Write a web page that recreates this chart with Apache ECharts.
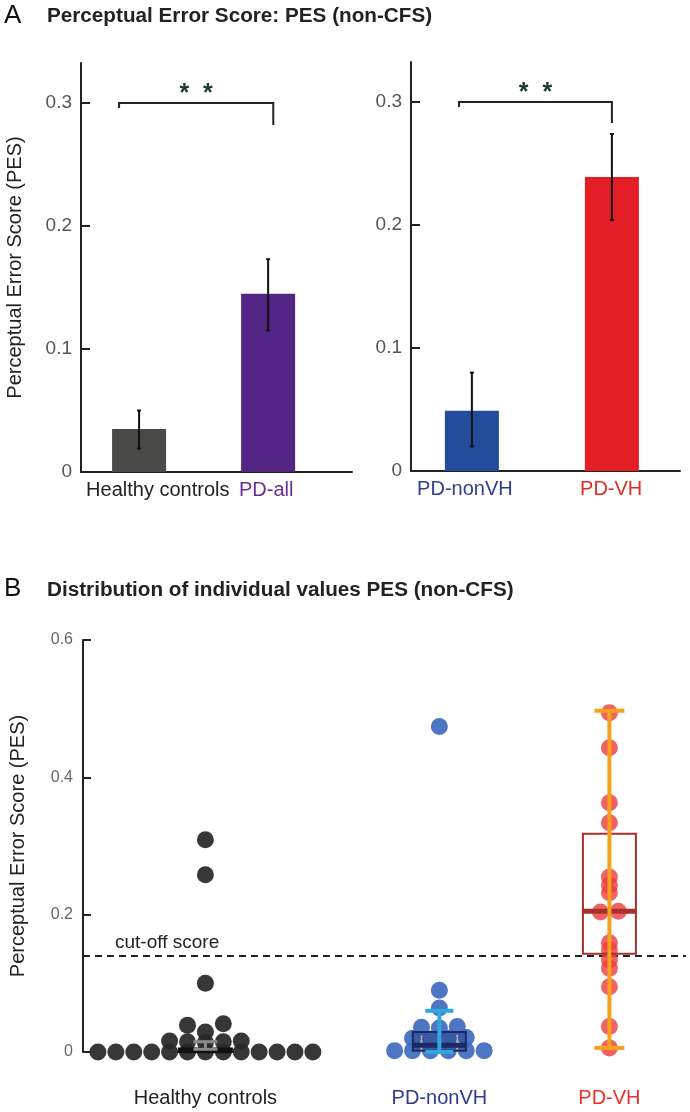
<!DOCTYPE html>
<html><head><meta charset="utf-8">
<script src="https://cdn.jsdelivr.net/npm/echarts@6/dist/echarts.min.js"></script>
<style>html,body{margin:0;padding:0;background:#fff}#c{width:690px;height:1112px}</style>
</head><body><div id="c"></div>
<script>
// ---------- Panel A data ----------
const aLeftCats = ['Healthy controls', 'PD-all'];
const aLeftMeans = [0.035, 0.145];
const aLeftErrLow = [0.019, 0.115];
const aLeftErrHigh = [0.050, 0.173];
const aRightCats = ['PD-nonVH', 'PD-VH'];
const aRightMeans = [0.049, 0.239];
const aRightErrLow = [0.020, 0.204];
const aRightErrHigh = [0.080, 0.274];
const aTicks = [0, 0.1, 0.2, 0.3];
const sigLabel = '*  *';
const sigLevel = 0.3;
const sigDropsLeft = [0.296, 0.282];
const sigDropsRight = [0.296, 0.283];

// ---------- Panel B data ----------
const bCats = ['Healthy controls', 'PD-nonVH', 'PD-VH'];
const hcValues = [0, 0, 0, 0, 0, 0, 0, 0, 0, 0, 0, 0, 0,
  0.014, 0.015, 0.015, 0.016, 0.016, 0.029, 0.039, 0.041, 0.100, 0.258, 0.309];
const nonVHValues = [0.002, 0.002, 0.002, 0.002, 0.002, 0.002,
  0.019, 0.020, 0.020, 0.021, 0.035, 0.036, 0.037, 0.064, 0.090, 0.474];
const vhValues = [0.006, 0.037, 0.095, 0.122, 0.134, 0.149, 0.159, 0.204, 0.205,
  0.232, 0.243, 0.255, 0.334, 0.363, 0.443, 0.494];
const boxQ1 = [0.000, 0.002, 0.143];
const boxMedian = [0.002, 0.010, 0.205];
const boxQ3 = [0.005, 0.029, 0.318];
const whiskerLow = [0.004, 0.000, 0.006];
const whiskerHigh = [0.015, 0.060, 0.497];
const cutoffScore = 0.136;
const bTicks = [0, 0.2, 0.4, 0.6];

// ---------- layout / style ----------
const FONT = '"Liberation Sans", Arial, Helvetica, sans-serif';
const aLeftBarPos = [0.9, 2.9], aLeftLabelPos = [1.19, 2.87], aLeftSig = [0.59, 2.98];
const aRightBarPos = [0.87, 2.87], aRightLabelPos = [0.77, 2.86], aRightSig = [0.686, 2.87];
const aLeftColors = ['#4a4a48', '#532584'];
const aRightColors = ['#234b9c', '#e31f25'];
const aLeftLabelColors = ['#222222', '#6a2b93'];
const aRightLabelColors = ['#2f3f8f', '#e52b26'];
const bGroupPos = [2.03, 5.91, 8.73];
const bLabelColors = ['#222222', '#2f3a8c', '#e8322d'];
const bDotColors = ['rgba(40,40,40,0.93)', 'rgba(64,108,190,0.93)', 'rgba(236,60,62,0.8)'];
const bRowTol = [0.013, 0.013, 0.004];
const bGridWidth = 606, bXMax = 10, dotStepPx = 18;
const boxStroke = ['#111111', '#1a2a66', '#a8302a'];
const boxFill = ['rgba(0,0,0,0)', 'rgba(25,40,100,0.35)', 'rgba(0,0,0,0)'];
const whiskerColor = ['#8a8a8a', '#2fa8e0', '#f7a01a'];
const whiskerCapHalf = [12, 14, 15];
const boxHalf = 26.5;

function spread(values, center, rowTol) {
  const step = dotStepPx * bXMax / bGridWidth;
  const sorted = values.slice().sort((a, b) => a - b);
  const rows = []; let cur = null;
  sorted.forEach(v => {
    if (!cur || v - cur[0] > rowTol) { cur = [v]; rows.push(cur); } else cur.push(v);
  });
  const pts = [];
  rows.forEach(r => {
    const n = r.length;
    r.forEach((v, i) => {
      let k;
      if (n % 2) k = i === 0 ? 0 : (i % 2 ? -Math.ceil(i / 2) : Math.ceil(i / 2));
      else { const m = Math.floor(i / 2) + 0.5; k = i % 2 ? m : -m; }
      pts.push([center + k * step, v]);
    });
  });
  return pts;
}

function catFormatter(positions, names) {
  return v => {
    let best = 0;
    positions.forEach((p, i) => { if (Math.abs(p - v) < Math.abs(positions[best] - v)) best = i; });
    return '{c' + best + '|' + names[best] + '}';
  };
}
function richFor(colors, size) {
  const r = {};
  colors.forEach((c, i) => { r['c' + i] = { color: c, fontSize: size, fontFamily: FONT }; });
  return r;
}

function errRender(params, api) {
  const x = api.value(0), lo = api.value(1), hi = api.value(2);
  const a = api.coord([x, hi]), b = api.coord([x, lo]);
  const cap = 2, st = { stroke: '#111', lineWidth: 2 };
  return { type: 'group', children: [
    { type: 'line', shape: { x1: a[0], y1: a[1], x2: b[0], y2: b[1] }, style: st },
    { type: 'line', shape: { x1: a[0] - cap, y1: a[1], x2: a[0] + cap, y2: a[1] }, style: st },
    { type: 'line', shape: { x1: b[0] - cap, y1: b[1], x2: b[0] + cap, y2: b[1] }, style: st }
  ] };
}
function sigRender(params, api) {
  const x1 = api.value(0), x2 = api.value(1), lv = api.value(2), dl = api.value(3), dr = api.value(4);
  const p = [api.coord([x1, dl]), api.coord([x1, lv]), api.coord([x2, lv]), api.coord([x2, dr])];
  const t = api.coord([(x1 + x2) / 2, lv]);
  return { type: 'group', children: [
    { type: 'polyline', shape: { points: p }, style: { stroke: '#222', lineWidth: 2, fill: null } },
    { type: 'text', style: { text: sigLabel, x: t[0], y: t[1] - 9, align: 'center', verticalAlign: 'middle',
      fill: '#1d3a30', font: 'bold 25px ' + FONT } }
  ] };
}
function boxRender(params, api) {
  const g = params.dataIndex;
  const pos = api.value(0);
  const q1 = api.coord([pos, api.value(1)]), md = api.coord([pos, api.value(2)]), q3 = api.coord([pos, api.value(3)]);
  const wl = api.coord([pos, api.value(4)]), wh = api.coord([pos, api.value(5)]);
  const cx = q1[0], ch = whiskerCapHalf[g];
  const wst = { stroke: whiskerColor[g], lineWidth: g === 0 ? 3 : 4 };
  return { type: 'group', children: [
    { type: 'rect', shape: { x: cx - boxHalf, y: q3[1], width: boxHalf * 2, height: Math.max(q1[1] - q3[1], 1) },
      style: { fill: boxFill[g], stroke: boxStroke[g], lineWidth: 2 } },
    { type: 'line', shape: { x1: cx - boxHalf, y1: md[1], x2: cx + boxHalf, y2: md[1] },
      style: { stroke: boxStroke[g], lineWidth: 5 } },
    { type: 'line', shape: { x1: cx, y1: wl[1], x2: cx, y2: wh[1] }, style: wst },
    { type: 'line', shape: { x1: cx - ch, y1: wl[1], x2: cx + ch, y2: wl[1] }, style: wst },
    { type: 'line', shape: { x1: cx - ch, y1: wh[1], x2: cx + ch, y2: wh[1] }, style: wst }
  ] };
}

const axisLineStyle = { show: true, lineStyle: { color: '#222', width: 2 } };
function yAxisA(withName) {
  return {
    type: 'value', min: 0, max: 0.3325, gridIndex: withName ? 0 : 1,
    axisLine: axisLineStyle,
    axisTick: { show: true, inside: true, length: 9, lineStyle: { color: '#222', width: 2 }, customValues: aTicks },
    axisLabel: { customValues: aTicks, formatter: v => String(v), color: '#555', fontSize: 19, margin: 9, fontFamily: FONT },
    splitLine: { show: false },
    name: withName ? 'Perceptual Error Score (PES)' : '',
    nameLocation: 'middle', nameGap: 56,
    nameTextStyle: { fontSize: 20, color: '#222', fontFamily: FONT }
  };
}

const chart = echarts.init(document.getElementById('c'), null, { renderer: 'canvas' });
chart.setOption({
  backgroundColor: '#fff',
  animation: false,
  title: [
    { text: 'A', left: 4, top: 3, padding: 0, textStyle: { fontSize: 26, fontWeight: 'normal', color: '#111', fontFamily: FONT } },
    { text: 'Perceptual Error Score: PES (non-CFS)', left: 47, top: 6, padding: 0, textStyle: { fontSize: 20.7, fontWeight: 'bold', color: '#222', fontFamily: FONT } },
    { text: 'B', left: 4, top: 576, padding: 0, textStyle: { fontSize: 26, fontWeight: 'normal', color: '#111', fontFamily: FONT } },
    { text: 'Distribution of individual values PES (non-CFS)', left: 47, top: 580, padding: 0, textStyle: { fontSize: 20.7, fontWeight: 'bold', color: '#222', fontFamily: FONT } }
  ],
  grid: [
    { left: 81, top: 63, width: 271, height: 409 },
    { left: 411, top: 62, width: 269, height: 409 },
    { left: 80, top: 640, width: bGridWidth, height: 412 }
  ],
  xAxis: [
    { type: 'value', gridIndex: 0, min: 0, max: 4.2, axisLine: axisLineStyle, axisTick: { show: false }, splitLine: { show: false },
      axisLabel: { customValues: aLeftLabelPos, formatter: catFormatter(aLeftLabelPos, aLeftCats), rich: richFor(aLeftLabelColors, 20), margin: 8 } },
    { type: 'value', gridIndex: 1, min: 0, max: 3.843, axisLine: axisLineStyle, axisTick: { show: false }, splitLine: { show: false },
      axisLabel: { customValues: aRightLabelPos, formatter: catFormatter(aRightLabelPos, aRightCats), rich: richFor(aRightLabelColors, 20), margin: 8 } },
    { type: 'value', gridIndex: 2, min: 0, max: bXMax, axisLine: { show: false }, axisTick: { show: false }, splitLine: { show: false },
      axisLabel: { customValues: bGroupPos, formatter: catFormatter(bGroupPos, bCats), rich: richFor(bLabelColors, 20), margin: 36 } }
  ],
  yAxis: [
    yAxisA(true),
    yAxisA(false),
    { type: 'value', gridIndex: 2, min: 0, max: 0.6,
      axisLine: axisLineStyle,
      axisTick: { show: true, inside: true, length: 8, lineStyle: { color: '#222', width: 2 }, customValues: bTicks },
      axisLabel: { customValues: bTicks, formatter: v => String(v), color: '#666', fontSize: 16, margin: 10, fontFamily: FONT },
      splitLine: { show: false },
      name: 'Perceptual Error Score (PES)', nameLocation: 'middle', nameGap: 55,
      nameTextStyle: { fontSize: 20, color: '#222', fontFamily: FONT } }
  ],
  series: [
    { type: 'bar', xAxisIndex: 0, yAxisIndex: 0, barWidth: 54, z: 2,
      data: aLeftMeans.map((m, i) => ({ value: [aLeftBarPos[i], m], itemStyle: { color: aLeftColors[i] } })) },
    { type: 'custom', xAxisIndex: 0, yAxisIndex: 0, z: 3, renderItem: errRender, encode: { x: 0, y: [1, 2] },
      data: aLeftMeans.map((m, i) => [aLeftBarPos[i], aLeftErrLow[i], aLeftErrHigh[i]]) },
    { type: 'custom', xAxisIndex: 0, yAxisIndex: 0, z: 3, renderItem: sigRender, encode: { x: [0, 1], y: [2, 3, 4] },
      data: [[aLeftSig[0], aLeftSig[1], sigLevel, sigDropsLeft[0], sigDropsLeft[1]]] },
    { type: 'bar', xAxisIndex: 1, yAxisIndex: 1, barWidth: 54, z: 2,
      data: aRightMeans.map((m, i) => ({ value: [aRightBarPos[i], m], itemStyle: { color: aRightColors[i] } })) },
    { type: 'custom', xAxisIndex: 1, yAxisIndex: 1, z: 3, renderItem: errRender, encode: { x: 0, y: [1, 2] },
      data: aRightMeans.map((m, i) => [aRightBarPos[i], aRightErrLow[i], aRightErrHigh[i]]) },
    { type: 'custom', xAxisIndex: 1, yAxisIndex: 1, z: 3, renderItem: sigRender, encode: { x: [0, 1], y: [2, 3, 4] },
      data: [[aRightSig[0], aRightSig[1], sigLevel, sigDropsRight[0], sigDropsRight[1]]] },
    { type: 'scatter', xAxisIndex: 2, yAxisIndex: 2, symbolSize: 17, z: 2,
      itemStyle: { color: bDotColors[0], opacity: 1 }, data: spread(hcValues, bGroupPos[0], bRowTol[0]),
      markLine: { silent: true, symbol: 'none', z: 1, data: [{ yAxis: cutoffScore }],
        lineStyle: { type: [7, 5], color: '#222', width: 2 },
        label: { show: true, position: 'insideStartTop', formatter: 'cut-off score', color: '#222', fontSize: 19,
          fontFamily: FONT, padding: [0, 0, 0, 28], distance: 4 } } },
    { type: 'scatter', xAxisIndex: 2, yAxisIndex: 2, symbolSize: 17, z: 2,
      itemStyle: { color: bDotColors[1], opacity: 1 }, data: spread(nonVHValues, bGroupPos[1], bRowTol[1]) },
    { type: 'scatter', xAxisIndex: 2, yAxisIndex: 2, symbolSize: 17, z: 2,
      itemStyle: { color: bDotColors[2], opacity: 1 }, data: spread(vhValues, bGroupPos[2], bRowTol[2]) },
    { type: 'custom', xAxisIndex: 2, yAxisIndex: 2, z: 4, renderItem: boxRender, encode: { x: 0, y: [1, 2, 3, 4, 5] },
      data: bGroupPos.map((p, i) => [p, boxQ1[i], boxMedian[i], boxQ3[i], whiskerLow[i], whiskerHigh[i]]) }
  ]
});
</script></body></html>
